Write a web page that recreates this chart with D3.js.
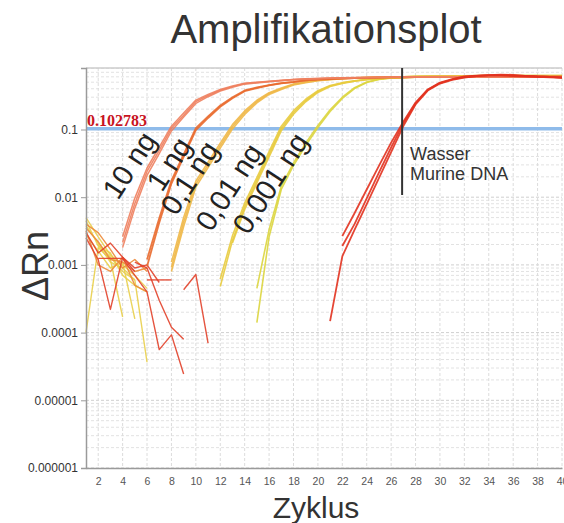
<!DOCTYPE html>
<html><head><meta charset="utf-8">
<script src="https://cdn.jsdelivr.net/npm/d3@7"></script>
<style>body{margin:0;background:#fff}svg{display:block}</style>
</head><body>
<svg id="chart" width="564" height="523"></svg>
<script>
// ---------- data ----------
const xTicks = [2,4,6,8,10,12,14,16,18,20,22,24,26,28,30,32,34,36,38,40];
const yTicks = [0.000001,0.00001,0.0001,0.001,0.01,0.1];
const yTickLabels = ["0.000001","0.00001","0.0001","0.001","0.01","0.1"];
const threshold = 0.102783;
const thresholdLabel = "0.102783";
const groupLabels = ["10 ng","1 ng","0,1 ng","0,01 ng","0,001 ng"];
const callCycle = 26.9;
const callLabels = ["Wasser","Murine DNA"];

// amplification curves: start cycle + values
const ng10A = {start:4, values:[.00214,.0081,.024,.049,.104,.163,.259,.318,.38,.43,.477,.494,.512,.53,.548,.557,.566,.573,.578,.583,.586,.59,.592,.594,.596,.597,.598,.599,.6,.6,.601,.601,.602,.602,.602,.603,.603]};
const ng10B = {start:4, values:[.0026,.0097,.027,.055,.112,.176,.272,.33,.39,.44,.483,.5,.517,.535,.55,.56,.568,.575,.58,.585,.588,.591,.593,.595,.597,.598,.599,.6,.601,.601,.602,.602,.603,.603,.603,.604,.604]};
const ng10C = {start:4, values:[.0018,.0069,.021,.044,.095,.153,.243,.305,.37,.42,.468,.488,.507,.525,.543,.553,.562,.57,.576,.581,.585,.588,.59,.592,.594,.595,.596,.597,.598,.599,.599,.6,.6,.6,.601,.601,.601]};
const ng1A = {start:6, values:[.00095,.0042,.0159,.0395,.098,.148,.216,.289,.368,.41,.447,.479,.5,.53,.548,.557,.566,.573,.578,.583,.587,.59,.592,.594,.596,.597,.598,.599,.6,.6,.601,.601,.602,.602,.602]};
const ng1B = {start:6, values:[.0012,.0049,.0176,.043,.105,.156,.226,.3,.377,.418,.454,.485,.506,.534,.551,.56,.568,.575,.58,.585,.588,.591,.593,.595,.597,.598,.599,.6,.6,.601,.601,.602,.602,.603,.603]};
const ng01A = {start:8, values:[.00092,.0043,.0156,.03,.0577,.11,.178,.259,.34,.40,.462,.50,.53,.548,.566,.576,.586,.592,.597,.601,.604,.607,.609,.611,.612,.613,.614,.615,.615,.616,.616,.617,.617]};
const ng01B = {start:8, values:[.0011,.005,.0172,.033,.063,.118,.188,.27,.35,.41,.47,.507,.535,.552,.569,.579,.588,.594,.599,.603,.606,.608,.61,.612,.613,.614,.615,.616,.616,.617,.617,.618,.618]};
const ng01C = {start:8, values:[.0008,.0037,.0141,.0275,.053,.102,.167,.247,.33,.39,.453,.493,.524,.544,.562,.573,.583,.59,.595,.599,.602,.605,.607,.609,.61,.611,.612,.613,.613,.614,.614,.615,.615]};
const ng001A = {start:12, values:[.00048,.0023,.0073,.0177,.0428,.1035,.178,.268,.364,.44,.485,.52,.548,.566,.576,.586,.593,.599,.604,.608,.611,.613,.615,.617,.618,.619,.62,.62,.621]};
const ng001B = {start:12, values:[.00062,.0027,.0082,.0195,.047,.112,.19,.28,.375,.448,.492,.525,.552,.569,.579,.588,.595,.601,.606,.609,.612,.614,.616,.618,.619,.62,.621,.621,.622]};
const ng001C = {start:13, values:[.0021,.0066,.0162,.0395,.096,.168,.257,.353,.432,.479,.515,.544,.563,.574,.584,.591,.597,.602,.606,.609,.611,.613,.615,.616,.617,.618,.618,.619]};
const ng0001A = {start:15, values:[.00014,.0026,.013,.0294,.058,.107,.184,.287,.403,.494,.548,.576,.596,.607,.613,.617,.62,.622,.623,.624,.625,.625,.626,.626,.626,.627]};
const ng0001B = {start:15, values:[.00045,.0033,.0145,.032,.063,.115,.195,.3,.415,.502,.553,.58,.598,.609,.615,.618,.621,.623,.624,.625,.625,.626,.626,.627,.627,.627]};
const murineA = {start:21, values:[.000148,.00134,.0033,.0079,.0191,.0462,.112,.234,.376,.477,.54,.586,.617,.634,.648,.64,.62,.607,.60,.586]};
const murineB = {start:22, values:[.00266,.0058,.013,.029,.064,.13,.25,.39,.494,.557,.607,.627,.634,.634,.627,.617,.607,.60,.586]};
const murineC = {start:22, values:[.0019,.004,.0096,.0231,.0542,.123,.242,.385,.485,.548,.596,.617,.627,.627,.617,.607,.60,.59,.58]};

// early-cycle noise segments
const noiseYellow = [
  {start:1, values:[.0050,.0026,.0014,.0010,.0007,.00045]},
  {start:1, values:[.0001,.0018,.0012,.00017]},
  {start:1, values:[.0028,.0016,.0009,.0011,.00016]},
  {start:2, values:[.0020,.0011,.0009,.0006,.0000365]},
  {start:1, values:[.0038,.0021,.0013,.0008,.0006]},
  {start:1, values:[.0045,.0019,.0015,.0007,.0005,.0004]}
];
const noiseOrange = [
  {start:1, values:[.0035,.0022,.0012,.0011,.0008,.0009]},
  {start:1, values:[.0040,.0030,.0017,.0009,.0012,.0008]},
  {start:1, values:[.0032,.0010,.0008,.0013,.0005,.0004]}
];
const noiseRed = [
  {start:1, values:[.0030,.0015,.0021,.0013,.0009,.0010,.00055]},
  {start:2, values:[.00125,.00125,.00125,.0007,.0004,.000056,.0000925,.0000245]},
  {start:1, values:[.0025,.0012,.00022,.0013,.0008]},
  {start:6, values:[.0006,.0006,.0006]},
  {start:9, values:[.00043,.00072,.00007]},
  {start:5, values:[.0011,.0009,.00030,.00012,.00008]}
];

// ---------- drawing ----------
const svg = d3.select("#chart");
const L = 86, R = 562, T = 68, B = 468;
const x = d3.scaleLinear().domain([1, 40]).range([L, R]);
const y = d3.scaleLog().domain([1e-6, 0.81]).range([B, T]);

const grid = svg.append("g");
[1e-6,1e-5,1e-4,1e-3,1e-2,1e-1].forEach(d => {
  for (let m = 1; m <= 9; m++) {
    const v = d * m;
    if (v > 0.81) continue;
    grid.append("line").attr("x1", L).attr("x2", R)
      .attr("y1", y(v)).attr("y2", y(v))
      .attr("stroke", m === 1 ? "#cfcfcf" : "#e2e2e2")
      .attr("stroke-dasharray", "3,2").attr("stroke-width", 1);
  }
});
xTicks.forEach(t => {
  grid.append("line").attr("x1", x(t)).attr("x2", x(t))
    .attr("y1", T).attr("y2", B)
    .attr("stroke", "#dcdcdc").attr("stroke-dasharray", "3,2");
});
svg.append("line").attr("x1", L).attr("x2", R).attr("y1", T).attr("y2", T)
  .attr("stroke", "#cccccc").attr("stroke-width", 1.5);

// threshold
svg.append("line").attr("x1", L).attr("x2", R)
  .attr("y1", y(threshold)).attr("y2", y(threshold))
  .attr("stroke", "#8fbbea").attr("stroke-width", 3.5);

const line = d3.line().x(d => x(d[0])).y(d => y(d[1]));
function pts(s) { return s.values.map((v, i) => [s.start + i, v]); }
function draw(list, color, w) {
  list.forEach(s => {
    svg.append("path").attr("d", line(pts(s)))
      .attr("fill", "none").attr("stroke", color)
      .attr("stroke-width", w).attr("stroke-opacity", 0.9)
      .attr("stroke-linejoin", "round");
  });
}
draw(noiseYellow, "#e9cf4a", 1.4);
draw(noiseOrange, "#ec8a3a", 1.4);
draw(noiseRed, "#e2412a", 1.4);
draw([ng0001A, ng0001B], "#dcd53e", 1.6);
draw([ng001A, ng001B, ng001C], "#e8cb3e", 1.6);
draw([ng01A, ng01B, ng01C], "#f0b848", 1.6);
draw([ng1A, ng1B], "#e96a2d", 1.8);
draw([ng10A, ng10B, ng10C], "#ee7f5e", 1.5);
draw([murineA, murineB, murineC], "#e2321f", 1.8);

// axes
const yAxis = d3.axisLeft(y).tickValues(yTicks)
  .tickFormat((d, i) => yTickLabels[i]).tickSize(5).tickPadding(3);
const gy = svg.append("g").attr("transform", `translate(${L},0)`).call(yAxis);
gy.select(".domain").attr("stroke", "#9a9a9a").attr("stroke-width", 1.5);
gy.selectAll(".tick line").attr("stroke", "#9a9a9a");
gy.selectAll("text").attr("font-family", "Liberation Sans, Arial, sans-serif")
  .attr("font-size", 12).attr("fill", "#333");

const xAxis = d3.axisBottom(x).tickValues(xTicks).tickSize(0).tickPadding(10);
const gx = svg.append("g").attr("transform", `translate(0,${B})`).call(xAxis);
gx.select(".domain").attr("stroke", "#9a9a9a").attr("stroke-width", 1.5);
gx.selectAll("text").attr("font-family", "Liberation Sans, Arial, sans-serif")
  .attr("font-size", 10.5).attr("fill", "#555");

// threshold label
svg.append("text").attr("x", L + 1).attr("y", y(threshold) - 3)
  .attr("font-family", "Liberation Serif, Times New Roman, serif")
  .attr("font-weight", "bold").attr("font-size", 16).attr("fill", "#c8141e")
  .text(thresholdLabel);

// Ct marker for water / murine DNA
svg.append("line").attr("x1", x(callCycle)).attr("x2", x(callCycle))
  .attr("y1", T).attr("y2", 195).attr("stroke", "#333").attr("stroke-width", 2);
callLabels.forEach((t, i) => {
  svg.append("text").attr("x", x(callCycle) + 8).attr("y", 160 + i * 20)
    .attr("font-family", "Liberation Sans, Arial, sans-serif")
    .attr("font-size", 18).attr("fill", "#333").text(t);
});

// rotated group labels
const labelPos = [[118,201],[162,193],[176,217],[211,233],[248,236]];
groupLabels.forEach((t, i) => {
  svg.append("text")
    .attr("transform", `translate(${labelPos[i][0]},${labelPos[i][1]}) rotate(-57)`)
    .attr("font-family", "Liberation Sans, Arial, sans-serif")
    .attr("font-size", 29).attr("fill", "#222").text(t);
});

// titles
svg.append("text").attr("x", 326).attr("y", 43).attr("text-anchor", "middle")
  .attr("font-family", "Liberation Sans, Arial, sans-serif")
  .attr("font-size", 40).attr("fill", "#333").text("Amplifikationsplot");
svg.append("text").attr("x", 316).attr("y", 518).attr("text-anchor", "middle")
  .attr("font-family", "Liberation Sans, Arial, sans-serif")
  .attr("font-size", 30).attr("fill", "#333").text("Zyklus");
svg.append("text").attr("transform", "translate(48,266) rotate(-90)")
  .attr("text-anchor", "middle")
  .attr("font-family", "Liberation Sans, Arial, sans-serif")
  .attr("font-size", 36).attr("fill", "#333").text("ΔRn");
</script>
</body></html>
